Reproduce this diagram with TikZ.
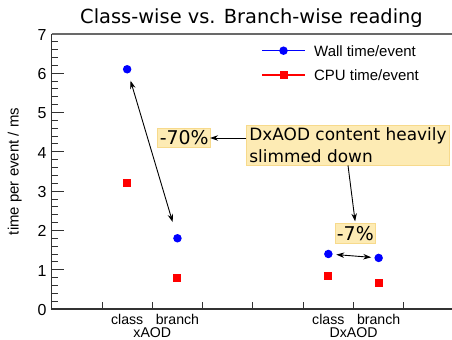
\documentclass[tikz,border=0pt]{standalone}
\usepackage{fontspec}
\setmainfont{Liberation Sans}
\newfontfamily\dejavu{DejaVu Sans}
\usetikzlibrary{arrows.meta}
\definecolor{boxfill}{RGB}{253,235,180}
\definecolor{boxdraw}{RGB}{247,218,140}
\definecolor{axisdark}{RGB}{50,50,50}
\definecolor{axisgray}{RGB}{105,105,105}
\definecolor{wallblue}{RGB}{0,0,255}
\definecolor{cpured}{RGB}{255,0,0}
\tikzset{
  wallpt/.style={circle, fill=wallblue, inner sep=0pt, minimum size=8.5bp},
  cpupt/.style={rectangle, fill=cpured, inner sep=0pt, minimum size=8bp},
  callout/.style={draw=boxdraw, fill=boxfill, line width=0.8bp, inner sep=0pt, font=\dejavu\fontsize{19}{22}\selectfont},
  arr/.style={-{Stealth[length=8bp,width=5.5bp]}, line width=0.9bp, black},
  dblarr/.style={{Stealth[length=8bp,width=5.5bp]}-{Stealth[length=8bp,width=5.5bp]}, line width=0.9bp, black},
  ticklab/.style={anchor=east, inner sep=0pt, font=\fontsize{16}{18}\selectfont},
  xlab/.style={anchor=base, inner sep=0pt, font=\fontsize{14.2}{16}\selectfont},
  legtext/.style={anchor=west, inner sep=0pt, font=\fontsize{15}{18}\selectfont},
}
\begin{document}
\begin{tikzpicture}[x=1bp,y=1bp]
\useasboundingbox (0,0) rectangle (452,339);
% title
\node[anchor=base, inner sep=0pt, font=\dejavu\fontsize{19.5}{22}\selectfont] (title) at (251.5,315.7) {Class-wise vs. Branch-wise reading};
% y axis label
\node[rotate=90, inner sep=0pt, font=\fontsize{15}{18}\selectfont] (ylab) at (14.7,167.5) {time per event / ms};
\begin{scope}[shift={(51.7bp,30bp)}, x=50.3bp, y=39.3bp]
  % frame
  \draw[axisgray, line width=1.4bp] (0,7) -- (8,7);
  \draw[axisdark, line width=1.4bp] (0,7) -- (0,0) -- (8,0);
  % y ticks
  \foreach \i in {1,...,34} { \draw[axisdark, line width=0.9bp] (0,\i*0.2) -- ++(6bp,0); }
  \foreach \v in {0,...,6} { \draw[axisdark, line width=0.9bp] (0,\v) -- ++(12bp,0); }
  \foreach \v in {0,...,7} { \node[ticklab] (yt\v) at ([xshift=-5bp,yshift=-1bp]0,\v) {\v}; }
  % x ticks
  \foreach \u in {1,...,7} { \draw[axisdark, line width=0.9bp] (\u,0) -- ++(0,7bp); }
  % x labels
  \node[xlab] (lc1) at ([yshift=-15.8bp]1.5,0) {class};
  \node[xlab] (lb1) at ([yshift=-15.8bp]2.5,0) {branch};
  \node[xlab] (lx) at ([yshift=-28.2bp]2,0) {xAOD};
  \node[xlab] (lc2) at ([yshift=-15.8bp]5.5,0) {class};
  \node[xlab] (lb2) at ([yshift=-15.8bp]6.5,0) {branch};
  \node[xlab] (ld) at ([yshift=-28.2bp]6,0) {DxAOD};
  % data
  \node[wallpt] (wc) at (1.5,6.1) {};
  \node[wallpt] (wb) at (2.5,1.8) {};
  \node[cpupt] (cc) at (1.5,3.2) {};
  \node[cpupt] (cb) at (2.5,0.78) {};
  \node[wallpt] (dwc) at (5.5,1.4) {};
  \node[wallpt] (dwb) at (6.5,1.3) {};
  \node[cpupt] (dcc) at (5.5,0.83) {};
  \node[cpupt] (dcb) at (6.5,0.67) {};
\end{scope}
% legend
\coordinate (lwa) at (262,288.3);
\coordinate (lwb) at (305,288.3);
\coordinate (lca) at (262,264);
\coordinate (lcb) at (305,264);
\draw[wallblue, line width=1.3bp] (lwa) -- (lwb);
\draw[cpured, line width=1.3bp] (lca) -- (lcb);
\node[wallpt] (lwm) at (283.5,288.3) {};
\node[cpupt] (lcm) at (283.5,264) {};
\node[legtext] (lwt) at (314,288.3) {Wall time/event};
\node[legtext] (lct) at (314,264) {CPU time/event};
% callouts
\node[callout, minimum width=53bp, minimum height=19.4bp] (p70) at (184.2,201) {-70\%};
\node[callout, minimum width=40.7bp, minimum height=20bp] (p7) at (355.3,105.7) {-7\%};
\node[callout, minimum width=202.6bp, minimum height=40bp, inner xsep=2.5bp, align=left, font=\dejavu\fontsize{17}{21.7}\selectfont] (dx) at (348,194) {DxAOD content heavily\\slimmed down};
% arrows
\draw[dblarr, shorten <=7.5bp, shorten >=12.5bp] (wc) -- (wb);
\draw[arr, shorten >=-1bp] (dx.west |- p70.east) -- (p70.east);
\draw[arr, shorten >=1.5bp] (dx.south) -- (p7.north);
\draw[dblarr, shorten <=3.5bp, shorten >=3bp] (dwc) -- (dwb);
\end{tikzpicture}
\end{document}
